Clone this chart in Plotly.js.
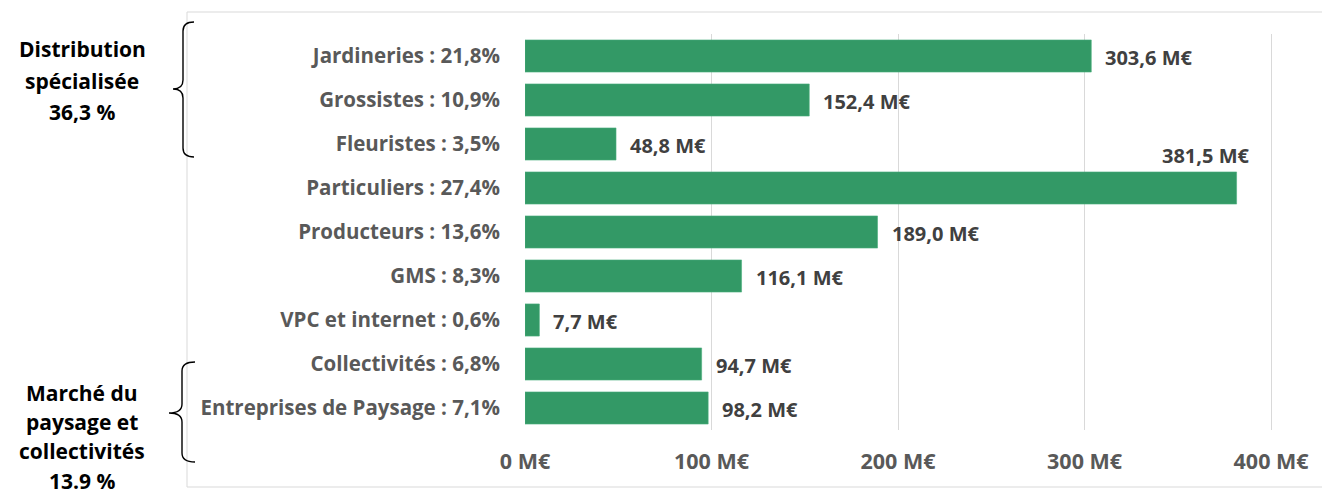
<!DOCTYPE html>
<html><head><meta charset="utf-8">
<script src="https://cdn.plot.ly/plotly-3.0.1.min.js"></script>
<style>html,body{margin:0;padding:0;background:#fff;}#c{width:1322px;height:495px;}</style>
</head><body><div id="c"></div>
<script>
const categories = ["Jardineries : 21,8%","Grossistes : 10,9%","Fleuristes : 3,5%","Particuliers : 27,4%","Producteurs : 13,6%","GMS : 8,3%","VPC et internet : 0,6%","Collectivités : 6,8%","Entreprises de Paysage : 7,1%"];
const values = [303.6, 152.4, 48.8, 381.5, 189.0, 116.1, 7.7, 94.7, 98.2];
const valueLabels = ["303,6 M€","152,4 M€","48,8 M€","381,5 M€","189,0 M€","116,1 M€","7,7 M€","94,7 M€","98,2 M€"];
const xTicks = [0, 100, 200, 300, 400];
const xTickLabels = ["0 M€","100 M€","200 M€","300 M€","400 M€"];
const group1Lines = ["Distribution", "spécialisée", "36,3 %"];
const group2Lines = ["Marché du", "paysage et", "collectivités", "13.9 %"];

const W = 1322, H = 495;
const L = 525, R = 47, T = 34, B = 65;
const pw = W - L - R, ph = H - T - B;
const px = v => (v - L) / pw;
const py = v => (H - B - v) / ph;
const FONT = "'Open Sans', sans-serif";

const annotations = values.map((v, i) => {
  const top = categories[i].startsWith("Particuliers");
  return {
    x: v, y: categories[i], xref: 'x', yref: 'y',
    text: valueLabels[i], showarrow: false,
    xanchor: top ? 'right' : 'left', yanchor: 'middle',
    xshift: top ? 14 : 12, yshift: top ? 33 : -1,
    font: {family: FONT, size: 20, color: '#404040', weight: 700}
  };
});
function groupLines(lines, centerY0, step) {
  lines.forEach((t, k) => annotations.push({
    x: px(82), y: py(centerY0 + k * step), xref: 'paper', yref: 'paper', text: t, showarrow: false,
    xanchor: 'center', yanchor: 'middle', font: {family: FONT, size: 21, color: '#000', weight: 700}
  }));
}
groupLines(group1Lines, 49, 31.5);
groupLines(group2Lines, 393, 29.2);

function brace(x0, xs, xt, y0, y1, ym) {
  const r = 9;
  const P = (x, y) => px(x) + ',' + py(y);
  return 'M' + P(x0, y0) + ' Q' + P(xs, y0) + ' ' + P(xs, y0 + r) +
    ' L' + P(xs, ym - r) + ' Q' + P(xs, ym) + ' ' + P(xt, ym) +
    ' Q' + P(xs, ym) + ' ' + P(xs, ym + r) +
    ' L' + P(xs, y1 - r) + ' Q' + P(xs, y1) + ' ' + P(x0, y1);
}

const shapes = [
  {type: 'rect', xref: 'paper', yref: 'paper', x0: px(187), x1: px(1340), y0: py(487), y1: py(12),
   line: {color: '#d9d9d9', width: 1}, layer: 'below'},
  {type: 'path', xref: 'paper', yref: 'paper', path: brace(194, 183, 173, 22, 157, 89), line: {color: '#000', width: 1.4}},
  {type: 'path', xref: 'paper', yref: 'paper', path: brace(195, 182, 169, 362, 462, 413), line: {color: '#000', width: 1.4}}
];

Plotly.newPlot('c', [{
  type: 'bar', orientation: 'h', x: values, y: categories,
  marker: {color: '#339966', line: {color: '#4caf7d', width: 0.6}},
  hoverinfo: 'none'
}], {
  width: W, height: H,
  margin: {l: L, r: R, t: T, b: B, pad: 0},
  paper_bgcolor: '#fff', plot_bgcolor: '#fff',
  bargap: 0.27, showlegend: false,
  font: {family: FONT},
  xaxis: {range: [0, 402.1], tickvals: xTicks, ticktext: xTickLabels, showgrid: true, gridcolor: '#d9d9d9', gridwidth: 1,
    zeroline: false, showline: false, ticks: '', ticklabelstandoff: 16,
    tickfont: {family: FONT, size: 21.5, color: '#595959', weight: 700}, fixedrange: true},
  yaxis: {type: 'category', autorange: 'reversed', showgrid: false, zeroline: false, showline: false, ticks: '',
    ticklabelstandoff: 24, tickfont: {family: FONT, size: 20.5, color: '#595959', weight: 700}, fixedrange: true},
  annotations: annotations, shapes: shapes
}, {staticPlot: true});
</script></body></html>
